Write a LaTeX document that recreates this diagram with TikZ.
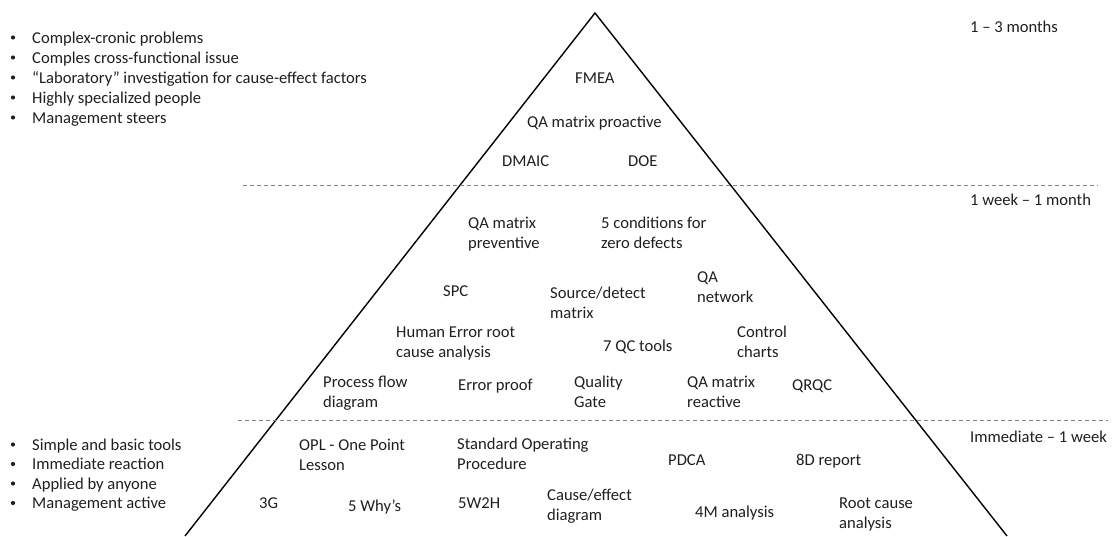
\documentclass[tikz,border=0pt]{standalone}
\usepackage{fontspec}
\setmainfont{Carlito}
\newcommand\tln[2]{\begin{tabular}[t]{@{}l@{}}#1\\#2\end{tabular}}
\begin{document}
\begin{tikzpicture}[x=1pt,y=-1pt,
  lbl/.style={anchor=base west,inner sep=0pt,font=\fontsize{16.6}{20}\selectfont,text=black!88},
  bul/.style={circle,fill=black!88,inner sep=0pt,minimum size=4.2pt},
  edge/.style={line width=1.4pt,line join=miter},
  sep/.style={gray,line width=0.9pt,dash pattern=on 4pt off 3pt}]
\useasboundingbox (0,0) rectangle (1112,536);

% pyramid outline
\coordinate (bl) at (185,536);
\coordinate (apex) at (595,13);
\coordinate (br) at (1007,536);
\draw[edge] (bl) -- (apex) -- (br);

% level separators
\coordinate (s1a) at (243,185.5);
\coordinate (s1b) at (1098,185.5);
\coordinate (s2a) at (238,420.7);
\coordinate (s2b) at (1108,420.7);
\draw[sep] (s1a) -- (s1b);
\draw[sep] (s2a) -- (s2b);

% time horizons
\node[lbl] (t1) at (970,32) {1 – 3 months};
\node[lbl] (t2) at (970,205) {1 week – 1 month};
\node[lbl] (t3) at (970,442) {Immediate – 1 week};

% characteristics of the top level
\foreach \y/\t [count=\i] in {43/Complex-cronic problems,63/Comples cross-functional issue,83/{“Laboratory” investigation for cause-effect factors},103/Highly specialized people,123/Management steers}{
  \node[bul] (tb\i) at (13,\y-5.5) {};
  \node[lbl] (tt\i) at (32,\y) {\t};
}

% characteristics of the bottom level
\foreach \y/\t [count=\i] in {450/Simple and basic tools,469.5/Immediate reaction,489/Applied by anyone,508.5/Management active}{
  \node[bul] (bb\i) at (13,\y-5.5) {};
  \node[lbl] (bt\i) at (32,\y) {\t};
}

% top level tools
\node[lbl] (fmea) at (575,83) {FMEA};
\node[lbl] (qap) at (527,127) {QA matrix proactive};
\node[lbl] (dmaic) at (502,166) {DMAIC};
\node[lbl] (doe) at (628,166) {DOE};

% middle level tools
\node[lbl] (qaprev) at (468,228) {\tln{QA matrix}{preventive}};
\node[lbl] (fivec) at (601,228) {\tln{5 conditions for}{zero defects}};
\node[lbl] (spc) at (443,296) {SPC};
\node[lbl] (srcdet) at (550,298) {\tln{Source/detect}{matrix}};
\node[lbl] (qanet) at (697,282) {\tln{QA}{network}};
\node[lbl] (herca) at (396,337) {\tln{Human Error root}{cause analysis}};
\node[lbl] (qc7) at (603,351) {7 QC tools};
\node[lbl] (ctrl) at (737,337) {\tln{Control}{charts}};
\node[lbl] (pfd) at (323,387) {\tln{Process flow}{diagram}};
\node[lbl] (eproof) at (458,390) {Error proof};
\node[lbl] (qgate) at (574,387) {\tln{Quality}{Gate}};
\node[lbl] (qareac) at (687,387) {\tln{QA matrix}{reactive}};
\node[lbl] (qrqc) at (792,390) {QRQC};

% bottom level tools
\node[lbl] (opl) at (299,450) {\tln{OPL - One Point}{Lesson}};
\node[lbl] (sop) at (457,449) {\tln{Standard Operating}{Procedure}};
\node[lbl] (pdca) at (668,465) {PDCA};
\node[lbl] (d8) at (796,465) {8D report};
\node[lbl] (g3) at (259,508) {3G};
\node[lbl] (why5) at (348,511) {5 Why’s};
\node[lbl] (w5h2) at (458,508) {5W2H};
\node[lbl] (cedia) at (547,500) {\tln{Cause/effect}{diagram}};
\node[lbl] (m4) at (695,517) {4M analysis};
\node[lbl] (rca) at (839,508) {\tln{Root cause}{analysis}};
\end{tikzpicture}
\end{document}
